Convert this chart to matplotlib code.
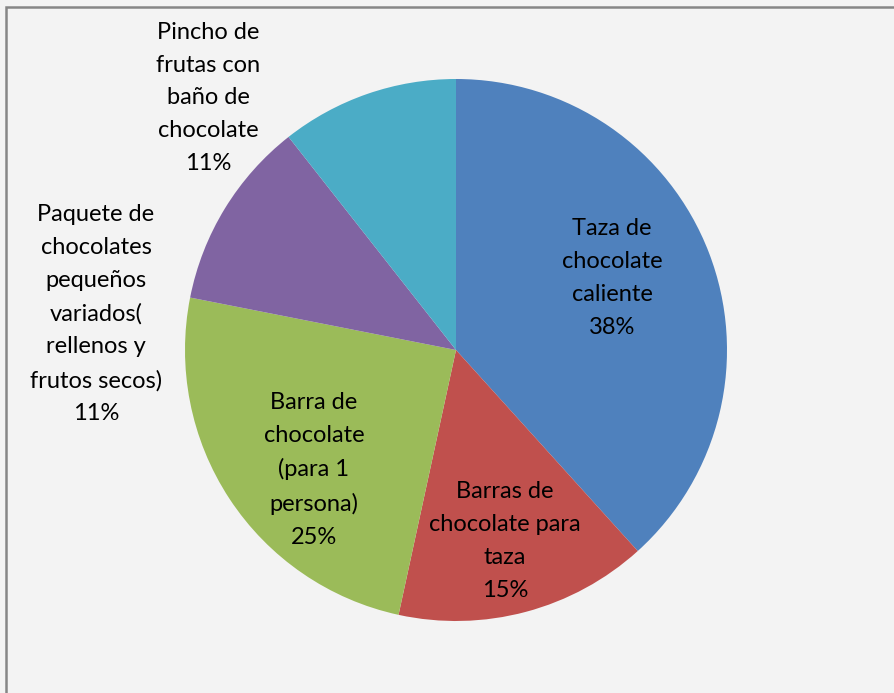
import matplotlib
matplotlib.use("Agg")
import matplotlib.pyplot as plt
from matplotlib.patches import Rectangle

# data (share of responses)
categories = [
    "Taza de\nchocolate\ncaliente",
    "Barras de\nchocolate para\ntaza",
    "Barra de\nchocolate\n(para 1\npersona)",
    "Paquete de\nchocolates\npequeños\nvariados(\nrellenos y\nfrutos secos)",
    "Pincho de\nfrutas con\nbaño de\nchocolate",
]
values = [38.3, 15.1, 24.7, 11.3, 10.6]
colors = ["#4F81BD", "#C0504D", "#9BBB59", "#8064A2", "#4BACC6"]

# label centres in pixels, measured from the top-left corner
label_pos = [(612, 278), (505, 541), (314, 470), (96, 314), (208, 98)]

W, H = 894, 693
fig = plt.figure(figsize=(W / 100, H / 100), dpi=100)
fig.patch.set_facecolor("#f3f3f3")
ax = fig.add_axes([0, 0, 1, 1])

ax.pie(values, colors=colors, startangle=90, counterclock=False,
       radius=271, center=(456, H - 350), frame=True,
       wedgeprops=dict(linewidth=0))
ax.set_xlim(0, W)
ax.set_ylim(0, H)
ax.axis("off")

total = sum(values)
for name, v, (x, y) in zip(categories, values, label_pos):
    ax.text(x, H - y, f"{name}\n{round(v / total * 100)}%", ha="center", va="center",
            fontsize=17, family="Lato", linespacing=1.7, color="black")

# chart border (only left and top are inside the picture)
ax.add_patch(Rectangle((6, -10), W + 10, H - 7 + 10, fill=False,
                       edgecolor="#868686", linewidth=1.8))

fig.savefig("out.png", dpi=100, facecolor=fig.get_facecolor())
